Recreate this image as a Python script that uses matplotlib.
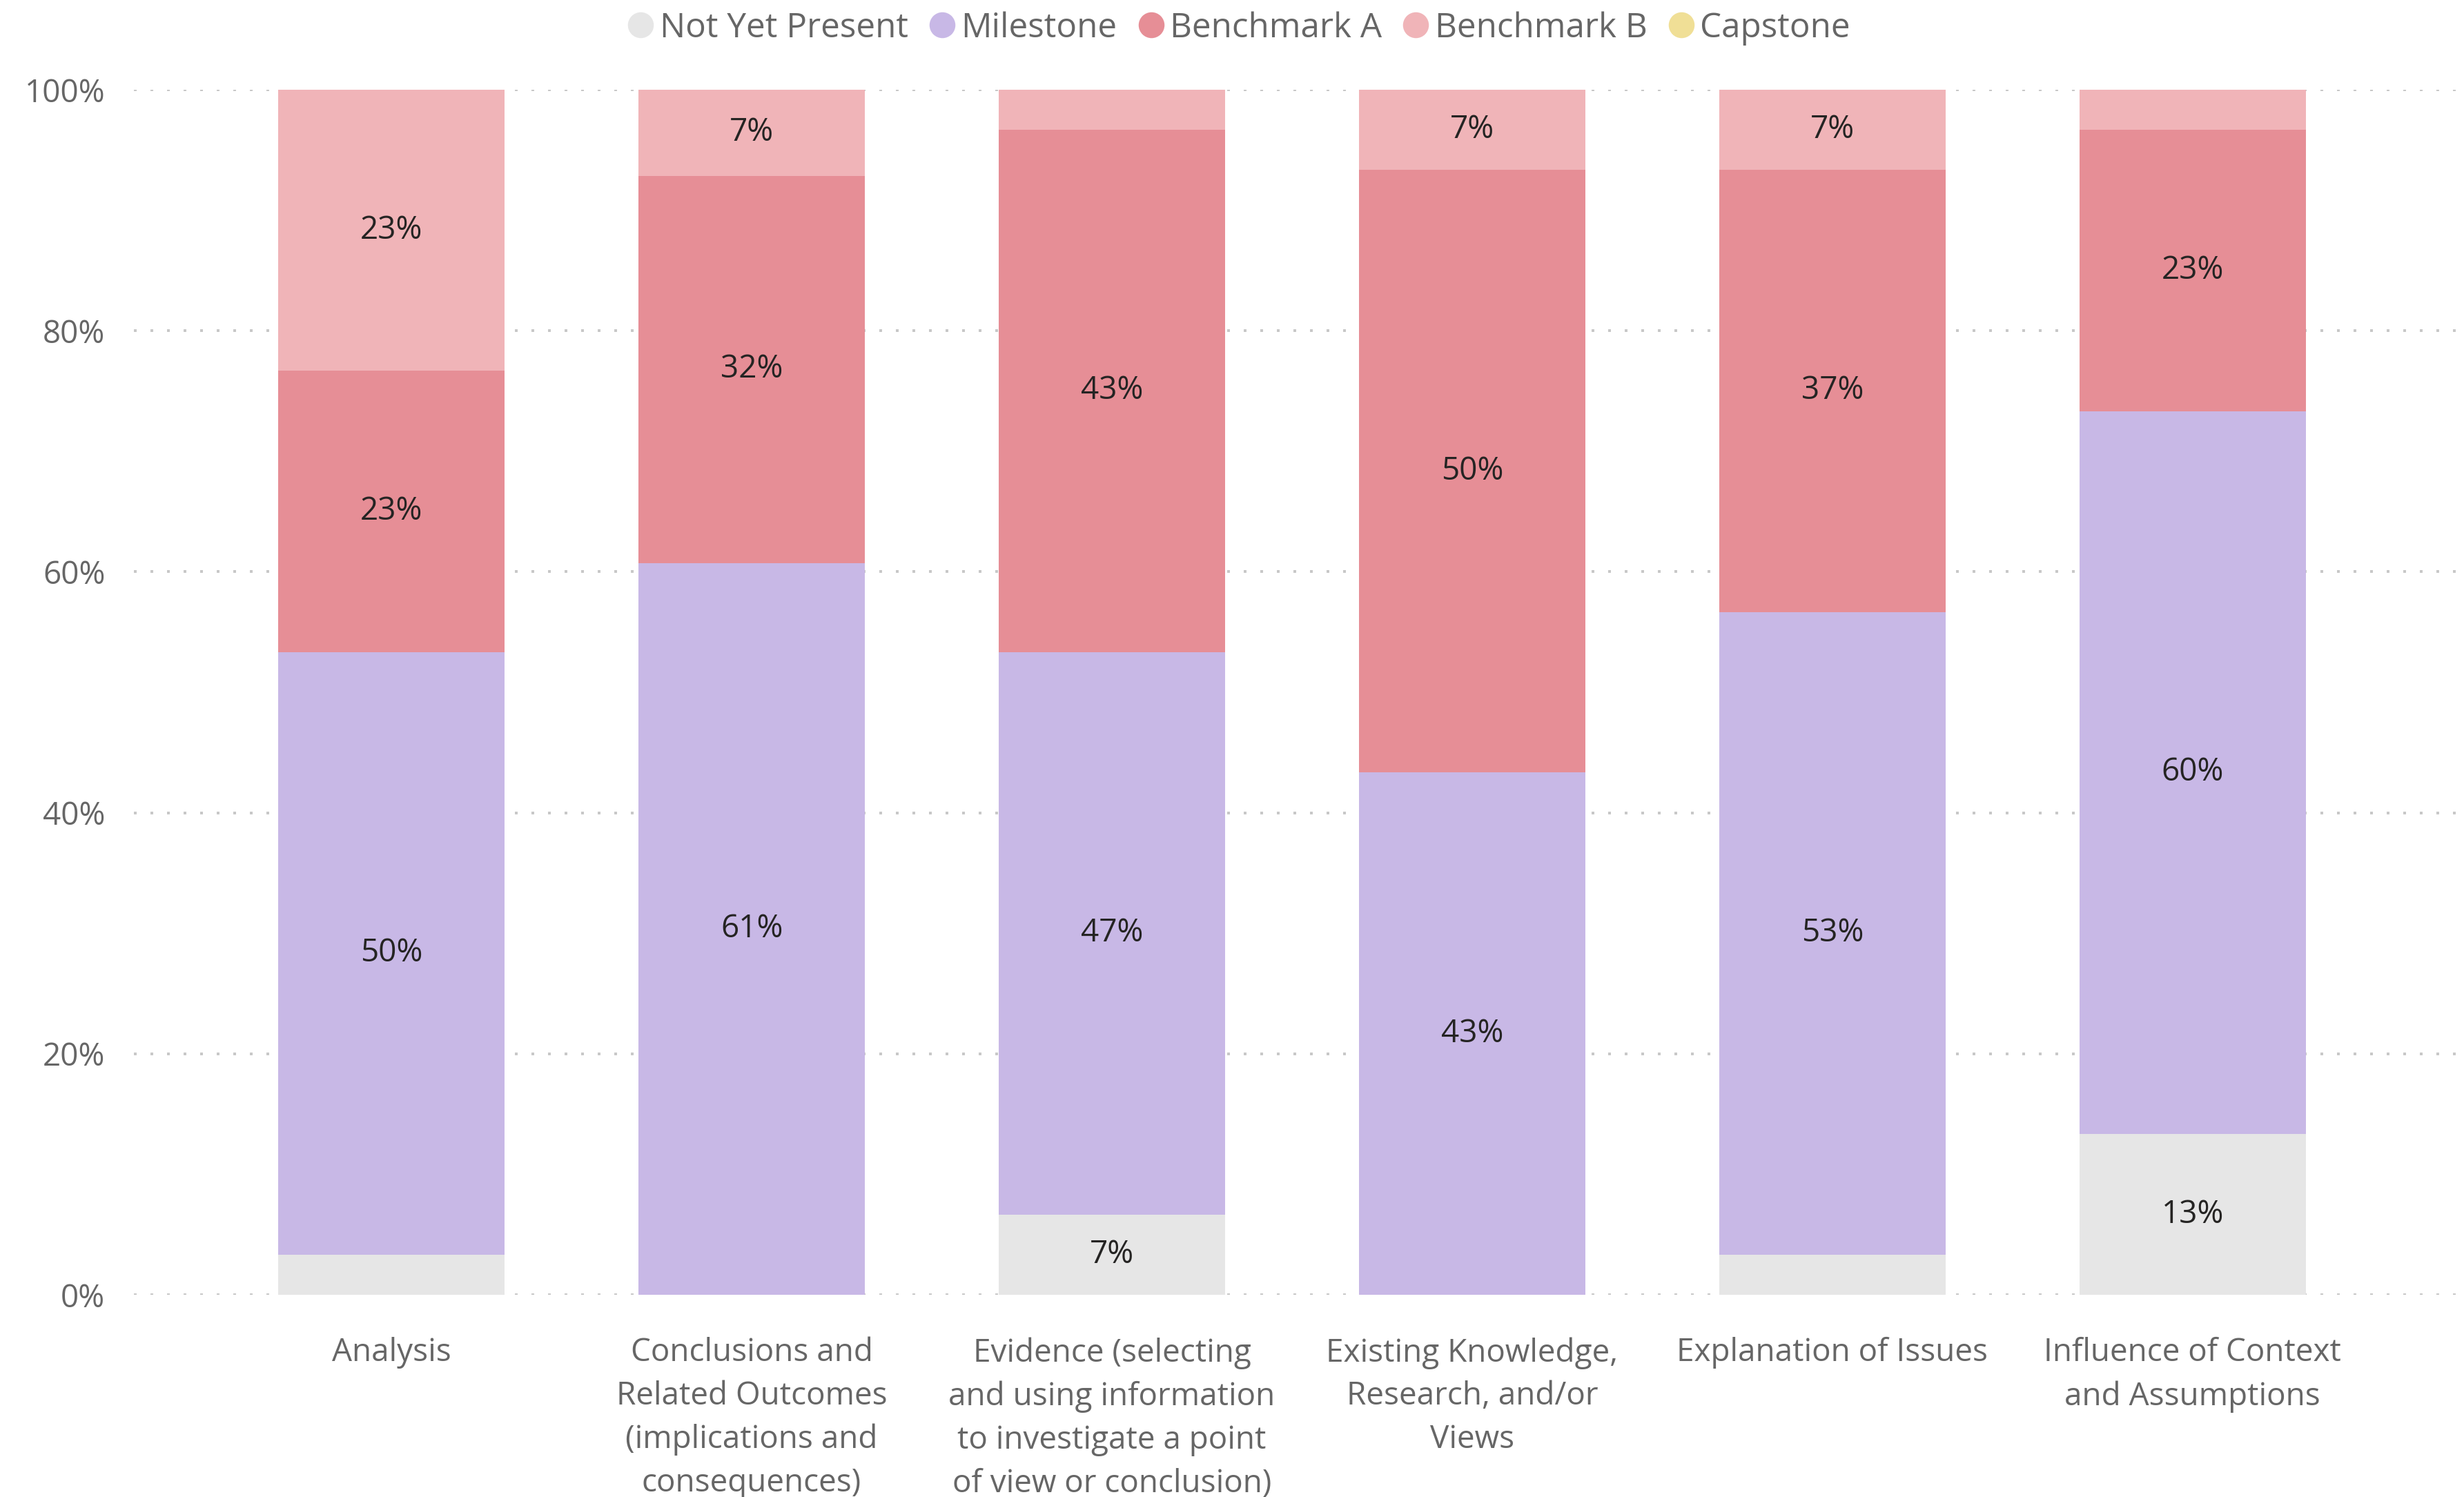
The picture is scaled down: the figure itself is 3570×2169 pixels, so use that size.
import numpy as np
import matplotlib

matplotlib.use('Agg')
import matplotlib.pyplot as plt
from matplotlib.lines import Line2D
from matplotlib.ticker import FuncFormatter

plt.rcParams['font.family'] = ['Open Sans', 'DejaVu Sans']

# ---- data (share of students per level, n = 30 / 28) ----
categories = [
    'Analysis',
    'Conclusions and\nRelated Outcomes\n(implications and\nconsequences)',
    'Evidence (selecting\nand using information\nto investigate a point\nof view or conclusion)',
    'Existing Knowledge,\nResearch, and/or\nViews',
    'Explanation of Issues',
    'Influence of Context\nand Assumptions',
]
levels = ['Not Yet Present', 'Milestone', 'Benchmark A', 'Benchmark B', 'Capstone']
not_yet = [1 / 30, 0.0, 2 / 30, 0.0, 1 / 30, 4 / 30]
milestone = [15 / 30, 17 / 28, 14 / 30, 13 / 30, 16 / 30, 18 / 30]
bench_a = [7 / 30, 9 / 28, 13 / 30, 15 / 30, 11 / 30, 7 / 30]
bench_b = [7 / 30, 2 / 28, 1 / 30, 2 / 30, 2 / 30, 1 / 30]
capstone = [0.0, 0.0, 0.0, 0.0, 0.0, 0.0]
series = [not_yet, milestone, bench_a, bench_b, capstone]
colors = ['#E6E6E6', '#C8B8E6', '#E68E96', '#F0B4B8', '#F0DF96']

TXT_GREY = '#666666'
LBL_CLR = '#252423'

fig = plt.figure(figsize=(17.85, 10.845), dpi=200)
ax = fig.add_axes([194 / 3570, 1 - 1876 / 2169, (3563 - 194) / 3570, (1876 - 130) / 2169])

x = np.arange(len(categories))
bottom = np.zeros(len(categories))
for vals, c in zip(series, colors):
    v = np.array(vals)
    ax.bar(x, v, 0.628, bottom=bottom, color=c, zorder=2, linewidth=0)
    for xi, b, h in zip(x, bottom, v):
        if h >= 0.05:
            ax.text(xi, b + h / 2, f'{round(h * 100)}%', ha='center', va='center',
                    fontsize=16.5, color=LBL_CLR, zorder=3)
    bottom += v

ax.set_xlim(-0.715, 5.74)
ax.set_ylim(0, 1)
ax.set_yticks(np.arange(0, 1.01, 0.2))
ax.yaxis.set_major_formatter(FuncFormatter(lambda v, p: f'{v * 100:.0f}%'))
ax.set_xticks(x)
ax.set_xticklabels(categories, fontsize=16.5, color=TXT_GREY, linespacing=1.48)
ax.tick_params(axis='y', length=0, pad=15, labelsize=16.5, labelcolor=TXT_GREY)
ax.tick_params(axis='x', length=0, pad=22)
for s in ax.spines.values():
    s.set_visible(False)
ax.grid(axis='y', color='#C8C8C8', linewidth=1.44, linestyle=(0, (1, 5)),
        dash_capstyle='butt', zorder=1)
ax.set_axisbelow(True)

handles = [Line2D([], [], marker='o', linestyle='none', markersize=13.5,
                  markerfacecolor=c, markeredgewidth=0) for c in colors]
fig.legend(handles, levels, loc='upper center', bbox_to_anchor=(0.502, 1.013), ncol=5,
           frameon=False, fontsize=17.8, labelcolor=TXT_GREY, handletextpad=0.05,
           columnspacing=0.5, handlelength=1.0)

fig.savefig('out.png', dpi=200)
